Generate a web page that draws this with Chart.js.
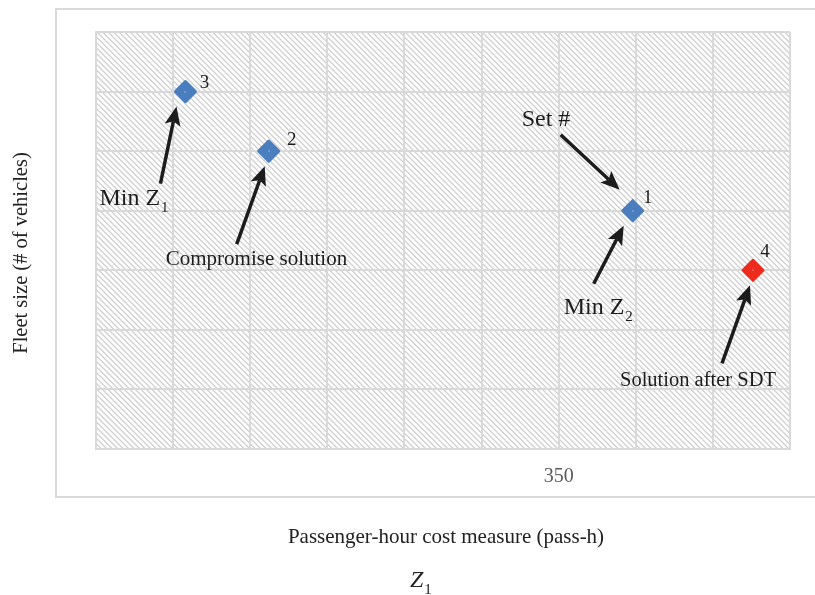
<!DOCTYPE html>
<html>
<head>
<meta charset="utf-8">
<script src="https://cdn.jsdelivr.net/npm/chart.js@4"></script>
<style>
  html, body { margin: 0; padding: 0; background: #ffffff; }
  #wrap { width: 815px; height: 595px; }
</style>
</head>
<body>
<div id="wrap"><canvas id="chart" width="815" height="595"></canvas></div>
<script>
// Solution sets: passenger-hour cost (Z1) against fleet size (Z2)
const setLabels  = ['1', '2', '3', '4'];
const passHours  = [374, 256, 229, 413];
const fleetSize  = [4, 5, 6, 3];
const isAfterSDT = [false, false, false, true];
const shownXTicks = [350];

const SERIF = '"Liberation Serif", "DejaVu Serif", serif';
const BLUE = '#4a7ebf';
const RED = '#ec2b1e';
const INK = '#1c1c1c';

// Callouts anchored to a solution set (pixel offsets from the marker centre)
const callouts = [
  { set: 2, text: 'Min Z', sub: '1', size: 24, tx: -86,  ty: 113, tail: [-25, 92], tip: [-9, 15] },
  { set: 1, text: 'Compromise solution', sub: '', size: 21, tx: -103, ty: 114, tail: [-32, 93], tip: [-4, 15] },
  { set: 0, text: 'Set #', sub: '', size: 24, tx: -111, ty: -85, tail: [-72, -76], tip: [-13, -21] },
  { set: 0, text: 'Min Z', sub: '2', size: 24, tx: -69,  ty: 103, tail: [-39, 73], tip: [-9, 15] },
  { set: 3, text: 'Solution after SDT', sub: '', size: 20.5, tx: -133, ty: 116, tail: [-31, 93], tip: [-3, 15] }
];
// Offsets of the set number next to each marker
const numberOffsets = [[15, -13], [23, -11], [19, -9], [12, -18]];

function drawArrow(ctx, x1, y1, x2, y2) {
  const a = Math.atan2(y2 - y1, x2 - x1);
  const c = Math.cos(a), s = Math.sin(a);
  const L = 19, W = 8, notch = 4;
  const bx = x2 - L * c, by = y2 - L * s;
  const nx = x2 - (L - notch) * c, ny = y2 - (L - notch) * s;
  ctx.beginPath();
  ctx.moveTo(x1, y1);
  ctx.lineTo(nx, ny);
  ctx.stroke();
  ctx.beginPath();
  ctx.moveTo(x2, y2);
  ctx.lineTo(bx - W * s, by + W * c);
  ctx.lineTo(nx, ny);
  ctx.lineTo(bx + W * s, by - W * c);
  ctx.closePath();
  ctx.fill();
}

function drawSubText(ctx, main, sub, x, y, size, italic) {
  ctx.font = (italic ? 'italic ' : '') + size + 'px ' + SERIF;
  ctx.textAlign = 'left';
  ctx.textBaseline = 'alphabetic';
  ctx.fillText(main, x, y);
  if (sub) {
    const w = ctx.measureText(main).width;
    ctx.font = Math.round(size * 0.62) + 'px ' + SERIF;
    ctx.fillText(sub, x + w + 1, y + size * 0.3);
  }
}

const framePlugin = {
  id: 'frame',
  beforeDraw(chart) {
    const ctx = chart.ctx;
    const a = chart.chartArea;
    ctx.save();
    ctx.fillStyle = '#ffffff';
    ctx.fillRect(0, 0, chart.width, chart.height);
    // outer border
    ctx.strokeStyle = '#d9d9d9';
    ctx.lineWidth = 2;
    ctx.beginPath();
    ctx.moveTo(chart.width, 9);
    ctx.lineTo(56, 9);
    ctx.lineTo(56, 497);
    ctx.lineTo(chart.width, 497);
    ctx.stroke();
    // diagonal hatching of the plot area
    ctx.beginPath();
    ctx.rect(a.left, a.top, a.right - a.left, a.bottom - a.top);
    ctx.clip();
    ctx.strokeStyle = '#d2d2d2';
    ctx.lineWidth = 1.4;
    const h = a.bottom - a.top;
    ctx.beginPath();
    for (let x = a.left - h; x < a.right + 5; x += 5.5) {
      ctx.moveTo(x, a.top);
      ctx.lineTo(x + h, a.bottom);
    }
    ctx.stroke();
    ctx.restore();
  },
  beforeDatasetsDraw(chart) {
    chart.ctx.lineJoin = 'round';
  },
  afterDatasetsDraw(chart) {
    const ctx = chart.ctx;
    const meta = chart.getDatasetMeta(0);
    ctx.save();
    ctx.lineJoin = 'miter';
    ctx.fillStyle = INK;
    ctx.strokeStyle = INK;
    ctx.lineWidth = 3.5;
    ctx.lineCap = 'butt';

    // small highlight in each marker centre
    meta.data.forEach((pt) => {
      ctx.save();
      ctx.fillStyle = 'rgba(255,255,255,0.8)';
      ctx.fillRect(Math.round(pt.x) - 0.5, Math.round(pt.y) - 0.5, 1, 1);
      ctx.restore();
    });

    // set numbers
    ctx.font = '19px ' + SERIF;
    ctx.textAlign = 'center';
    ctx.textBaseline = 'middle';
    meta.data.forEach((pt, i) => {
      const o = numberOffsets[i];
      ctx.fillText(setLabels[i], pt.x + o[0], pt.y + o[1]);
    });

    // callouts
    callouts.forEach((c) => {
      const pt = meta.data[c.set];
      drawArrow(ctx, pt.x + c.tail[0], pt.y + c.tail[1], pt.x + c.tip[0], pt.y + c.tip[1]);
      drawSubText(ctx, c.text, c.sub, pt.x + c.tx, pt.y + c.ty, c.size, false);
    });

    // axis titles
    ctx.fillStyle = '#222222';
    ctx.font = '21px ' + SERIF;
    ctx.textAlign = 'center';
    ctx.textBaseline = 'alphabetic';
    ctx.fillText('Passenger-hour cost measure (pass-h)', 446, 543);
    drawSubText(ctx, 'Z', '1', 410, 587, 24, true);
    ctx.save();
    ctx.translate(27, 253);
    ctx.rotate(-Math.PI / 2);
    ctx.font = '20.5px ' + SERIF;
    ctx.textAlign = 'center';
    ctx.textBaseline = 'alphabetic';
    ctx.fillText('Fleet size (# of vehicles)', 0, 0);
    ctx.restore();
    ctx.restore();
  }
};

const points = passHours.map((x, i) => ({ x: x, y: fleetSize[i] }));

new Chart(document.getElementById('chart'), {
  type: 'scatter',
  data: {
    datasets: [{
      label: 'Solution sets',
      data: points,
      pointStyle: 'rectRot',
      pointRadius: 10,
      pointHoverRadius: 10,
      borderWidth: 3,
      backgroundColor: isAfterSDT.map(f => f ? RED : BLUE),
      borderColor: isAfterSDT.map(f => f ? RED : BLUE)
    }]
  },
  options: {
    responsive: false,
    animation: false,
    devicePixelRatio: 1,
    layout: { padding: { left: 96, top: 32, right: 25, bottom: 96 } },
    plugins: { legend: { display: false }, tooltip: { enabled: false } },
    scales: {
      x: {
        type: 'linear',
        min: 200,
        max: 425,
        afterFit(scale) { scale.height = 50; },
        ticks: {
          stepSize: 25,
          autoSkip: false,
          maxRotation: 0,
          padding: 16,
          color: '#5a5a5a',
          font: { family: SERIF, size: 20 },
          callback: (v) => shownXTicks.includes(v) ? String(v) : ''
        },
        grid: { color: '#d9d9d9', lineWidth: 2, drawTicks: false },
        border: { display: true, color: '#d9d9d9', width: 2 }
      },
      y: {
        type: 'linear',
        min: 0,
        max: 7,
        afterFit(scale) { scale.width = 0; },
        ticks: { stepSize: 1, display: false },
        grid: { color: '#d9d9d9', lineWidth: 2, drawTicks: false },
        border: { display: true, color: '#d9d9d9', width: 2 }
      }
    }
  },
  plugins: [framePlugin]
});
</script>
</body>
</html>
